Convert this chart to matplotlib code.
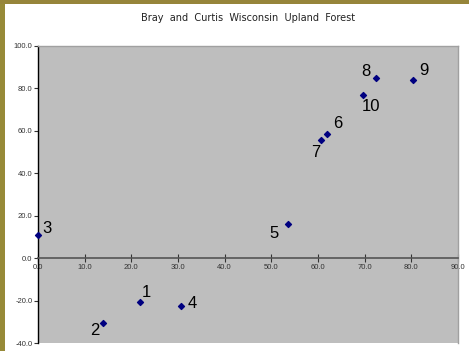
import matplotlib
matplotlib.use("Agg")
import matplotlib.pyplot as plt
from matplotlib.patches import Rectangle

# Data
labels = ["1", "2", "3", "4", "5", "6", "7", "8", "9", "10"]
x_vals = [21.8, 14.0, 0.0, 30.6, 53.6, 62.0, 60.7, 72.4, 80.3, 69.7]
y_vals = [-20.8, -30.4, 10.8, -22.4, 16.0, 58.3, 55.9, 84.9, 83.8, 77.1]
x_ticks = [0, 10, 20, 30, 40, 50, 60, 70, 80, 90]
y_ticks = [-40, -20, 0, 20, 40, 60, 80, 100]
title = "Bray  and  Curtis  Wisconsin  Upland  Forest"

# label offsets in pixels (style)
offsets_px = [(7, 10), (-9, -8), (9, 7), (11, 2), (-14, -9),
              (10, 11), (-6, -13), (-10, 7), (11, 10), (8, -12)]

W, H = 469, 351
fig = plt.figure(figsize=(W / 100, H / 100), dpi=100)
fig.patch.set_facecolor("white")
# olive frame
fig.patches.append(Rectangle((0, 0), 5 / W, 1, transform=fig.transFigure,
                             facecolor="#978a38", edgecolor="none", zorder=0))
fig.patches.append(Rectangle((0, 1 - 4 / H), 1, 4 / H, transform=fig.transFigure,
                             facecolor="#96853a", edgecolor="none", zorder=0))

ax = fig.add_axes([38 / W, 1 - 343 / H, (458 - 38) / W, (343 - 46) / H])
ax.set_facecolor("#bebebe")
ax.set_xlim(0, 90)
ax.set_ylim(-40, 100)

ax.scatter(x_vals, y_vals, marker="D", s=9, color="#000080", zorder=5, clip_on=False)

for lab, xv, yv, (dx, dy) in zip(labels, x_vals, y_vals, offsets_px):
    ax.annotate(lab, (xv, yv), xytext=(dx * 0.72, dy * 0.72), textcoords="offset points",
                ha="center", va="center", fontsize=12, color="black",
                family="Liberation Sans", zorder=6)

ax.spines["left"].set_color("black")
ax.spines["left"].set_linewidth(1.0)
ax.spines["bottom"].set_position(("data", 0))
ax.spines["bottom"].set_color("#555555")
ax.spines["bottom"].set_linewidth(1.2)
ax.spines["top"].set_color("#a0a0a0")
ax.spines["right"].set_color("#a0a0a0")
ax.spines["top"].set_linewidth(1.0)
ax.spines["right"].set_linewidth(1.0)

ax.set_xticks(x_ticks)
ax.set_xticklabels([f"{v:.1f}" for v in x_ticks])
ax.set_yticks(y_ticks)
ax.set_yticklabels([f"{v:.1f}" for v in y_ticks])
ax.tick_params(axis="x", direction="inout", length=6, width=0.8, color="#333333",
               labelsize=5.5, labelcolor="#333333", pad=1)
ax.tick_params(axis="y", direction="out", length=3, width=0.8, color="#333333",
               labelsize=5.5, labelcolor="#333333", pad=1)
for t in ax.get_xticklabels() + ax.get_yticklabels():
    t.set_family("Liberation Sans")

fig.text(248 / W, 1 - 18 / H, title, ha="center", va="center", fontsize=7,
         family="DejaVu Sans", color="#222222")

fig.savefig("out.png", dpi=100, facecolor=fig.get_facecolor())
